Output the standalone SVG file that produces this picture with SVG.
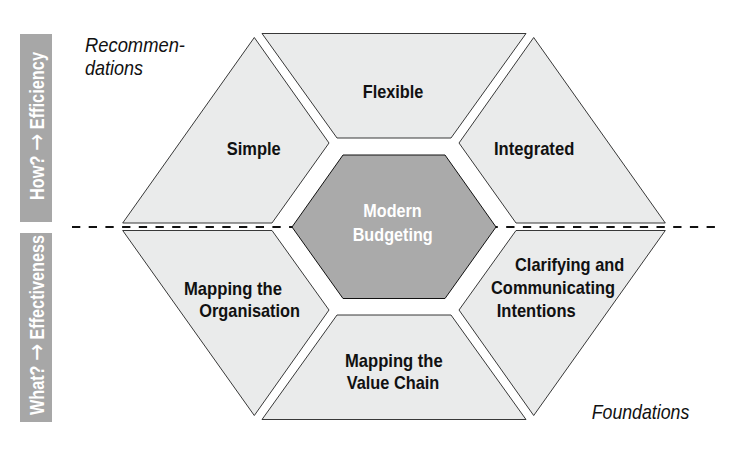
<svg xmlns="http://www.w3.org/2000/svg" width="752" height="460" viewBox="0 0 752 460">
<style>
.seg{fill:#eaebeb;stroke:#222;stroke-width:0.9;stroke-linejoin:miter}
.core{fill:#aaaaaa;stroke:#111;stroke-width:1}
.lbl{font-family:"Liberation Sans",Arial,sans-serif;font-weight:bold;font-size:19px;fill:#111}
.clbl{font-family:"Liberation Sans",Arial,sans-serif;font-weight:bold;font-size:19px;fill:#ffffff}
.it{font-family:"Liberation Sans",Arial,sans-serif;font-style:italic;font-size:21px;fill:#111}
.bar{fill:#a7a7a7}
.side{font-family:"Liberation Sans",Arial,sans-serif;font-weight:bold;font-size:20px;fill:#ffffff}
.arr{font-family:"DejaVu Sans",sans-serif;font-weight:normal;font-size:25px}
.sep{stroke:#111;stroke-width:2;stroke-dasharray:8.3 8.4;fill:none}
</style>
<rect width="752" height="460" fill="#ffffff"/>
<g id="separator">
<line class="sep" x1="72" y1="227" x2="720" y2="227"/>
</g>
<g id="bar-how">
<rect class="bar" x="20" y="34" width="32" height="188"/>
<text class="side" transform="translate(43.5,126) rotate(-90)" x="0" y="0" text-anchor="middle" textLength="148" lengthAdjust="spacingAndGlyphs">How? <tspan class="arr" dy="1">→</tspan><tspan dy="-1"> Efficiency</tspan></text>
</g>
<g id="bar-what">
<rect class="bar" x="20" y="233" width="32" height="189"/>
<text class="side" transform="translate(43.5,325) rotate(-90)" x="0" y="0" text-anchor="middle" textLength="180" lengthAdjust="spacingAndGlyphs">What? <tspan class="arr" dy="1">→</tspan><tspan dy="-1"> Effectiveness</tspan></text>
</g>
<g id="flexible">
<polygon class="seg" points="262,33.5 526,33.5 451,138 337,138"/>
<text class="lbl" x="362.7" y="98" textLength="60.6" lengthAdjust="spacingAndGlyphs">Flexible</text>
</g>
<g id="simple">
<polygon class="seg" points="254.3,37.5 122.7,223 272,223 329,143"/>
<text class="lbl" x="226.7" y="155" textLength="54" lengthAdjust="spacingAndGlyphs">Simple</text>
</g>
<g id="integrated">
<polygon class="seg" points="533.7,37.5 665.3,223 516,223 459,143"/>
<text class="lbl" x="494" y="155" textLength="80.3" lengthAdjust="spacingAndGlyphs">Integrated</text>
</g>
<g id="mapping-organisation">
<polygon class="seg" points="254.3,415.5 122.7,230.5 272,230.5 329,310"/>
<text class="lbl" x="184" y="295" textLength="98" lengthAdjust="spacingAndGlyphs">Mapping the</text>
<text class="lbl" x="199.3" y="317" textLength="100.7" lengthAdjust="spacingAndGlyphs">Organisation</text>
</g>
<g id="clarifying">
<polygon class="seg" points="533.7,415.5 665.3,230.5 516,230.5 459,310"/>
<text class="lbl" x="515" y="270.7" textLength="109.3" lengthAdjust="spacingAndGlyphs">Clarifying and</text>
<text class="lbl" x="491" y="294" textLength="124" lengthAdjust="spacingAndGlyphs">Communicating</text>
<text class="lbl" x="496.7" y="316.7" textLength="79" lengthAdjust="spacingAndGlyphs">Intentions</text>
</g>
<g id="value-chain">
<polygon class="seg" points="262,419.5 526,419.5 451,315 337,315"/>
<text class="lbl" x="345" y="366.7" textLength="97.7" lengthAdjust="spacingAndGlyphs">Mapping the</text>
<text class="lbl" x="346.7" y="389.3" textLength="92.6" lengthAdjust="spacingAndGlyphs">Value Chain</text>
</g>
<g id="modern-budgeting">
<polygon class="core" points="343,155 445,155 496,227 445,298.5 343,298.5 292,227"/>
<text class="clbl" x="363.3" y="216.7" textLength="58.4" lengthAdjust="spacingAndGlyphs">Modern</text>
<text class="clbl" x="352.7" y="240.7" textLength="80" lengthAdjust="spacingAndGlyphs">Budgeting</text>
</g>
<g id="recommendations">
<text class="it" x="85" y="51.7" textLength="100" lengthAdjust="spacingAndGlyphs">Recommen-</text>
<text class="it" x="85" y="75" textLength="58" lengthAdjust="spacingAndGlyphs">dations</text>
</g>
<g id="foundations">
<text class="it" x="591.7" y="419.3" textLength="97.6" lengthAdjust="spacingAndGlyphs">Foundations</text>
</g>
</svg>
